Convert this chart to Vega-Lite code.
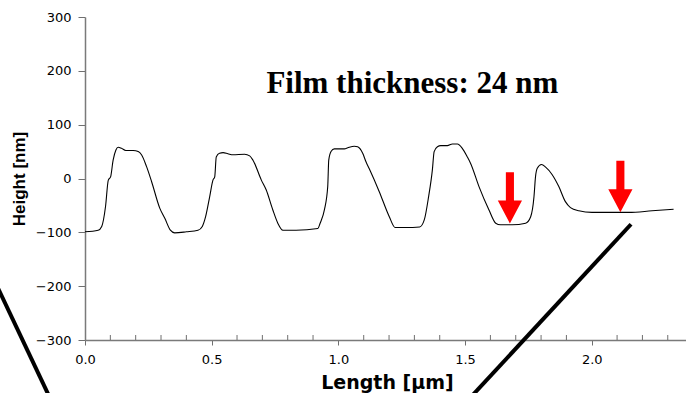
{
  "$schema": "https://vega.github.io/schema/vega-lite/v6.json",
  "width": 601,
  "height": 323,
  "autosize": {"type": "none"},
  "padding": {"left": 85, "top": 17, "right": 0, "bottom": 53},
  "background": "white",
  "config": {"view": {"stroke": null}},
  "datasets": {
    "profile": [
      {"length": 0, "height": -99}, {"length": 0.052, "height": -96}, {"length": 0.066, "height": -89},
      {"length": 0.081, "height": -52}, {"length": 0.092, "height": -3}, {"length": 0.101, "height": 3},
      {"length": 0.111, "height": 34}, {"length": 0.122, "height": 53}, {"length": 0.131, "height": 58},
      {"length": 0.144, "height": 56}, {"length": 0.161, "height": 52}, {"length": 0.19, "height": 52},
      {"length": 0.21, "height": 50}, {"length": 0.223, "height": 44}, {"length": 0.243, "height": 22},
      {"length": 0.263, "height": -6}, {"length": 0.295, "height": -55}, {"length": 0.315, "height": -74},
      {"length": 0.337, "height": -96}, {"length": 0.354, "height": -101}, {"length": 0.4, "height": -99},
      {"length": 0.446, "height": -96}, {"length": 0.463, "height": -89}, {"length": 0.476, "height": -71},
      {"length": 0.492, "height": -34}, {"length": 0.505, "height": -3}, {"length": 0.512, "height": 3},
      {"length": 0.518, "height": 40}, {"length": 0.531, "height": 47}, {"length": 0.545, "height": 48},
      {"length": 0.564, "height": 46}, {"length": 0.584, "height": 44}, {"length": 0.63, "height": 45},
      {"length": 0.65, "height": 42}, {"length": 0.663, "height": 34}, {"length": 0.696, "height": -3},
      {"length": 0.715, "height": -21}, {"length": 0.741, "height": -58}, {"length": 0.761, "height": -83},
      {"length": 0.781, "height": -96}, {"length": 0.833, "height": -96}, {"length": 0.919, "height": -93},
      {"length": 0.928, "height": -83}, {"length": 0.945, "height": -58}, {"length": 0.958, "height": -15},
      {"length": 0.962, "height": 34}, {"length": 0.971, "height": 50}, {"length": 0.984, "height": 55},
      {"length": 1.024, "height": 55}, {"length": 1.037, "height": 57}, {"length": 1.063, "height": 60},
      {"length": 1.076, "height": 59}, {"length": 1.096, "height": 47}, {"length": 1.109, "height": 31},
      {"length": 1.122, "height": 18}, {"length": 1.161, "height": -24}, {"length": 1.201, "height": -71},
      {"length": 1.224, "height": -91}, {"length": 1.266, "height": -91}, {"length": 1.321, "height": -90},
      {"length": 1.339, "height": -77}, {"length": 1.356, "height": -34}, {"length": 1.371, "height": 16},
      {"length": 1.378, "height": 50}, {"length": 1.391, "height": 59}, {"length": 1.404, "height": 61},
      {"length": 1.43, "height": 61}, {"length": 1.45, "height": 64}, {"length": 1.47, "height": 64},
      {"length": 1.489, "height": 56}, {"length": 1.509, "height": 40}, {"length": 1.522, "height": 28},
      {"length": 1.555, "height": -15}, {"length": 1.594, "height": -58}, {"length": 1.621, "height": -83},
      {"length": 1.64, "height": -86}, {"length": 1.686, "height": -86}, {"length": 1.739, "height": -83},
      {"length": 1.759, "height": -71}, {"length": 1.772, "height": -34}, {"length": 1.778, "height": 3},
      {"length": 1.785, "height": 19}, {"length": 1.802, "height": 26}, {"length": 1.818, "height": 21},
      {"length": 1.844, "height": 7}, {"length": 1.87, "height": -15}, {"length": 1.896, "height": -43},
      {"length": 1.916, "height": -54}, {"length": 1.949, "height": -60}, {"length": 2.001, "height": -63},
      {"length": 2.067, "height": -63}, {"length": 2.146, "height": -63}, {"length": 2.238, "height": -60},
      {"length": 2.323, "height": -57}
    ],
    "minorTicks": [
      {"length": 0.1, "height": -300}, {"length": 0.2, "height": -300}, {"length": 0.3, "height": -300},
      {"length": 0.4, "height": -300}, {"length": 0.6, "height": -300}, {"length": 0.7, "height": -300},
      {"length": 0.8, "height": -300}, {"length": 0.9, "height": -300}, {"length": 1.1, "height": -300},
      {"length": 1.2, "height": -300}, {"length": 1.3, "height": -300}, {"length": 1.4, "height": -300},
      {"length": 1.6, "height": -300}, {"length": 1.7, "height": -300}, {"length": 1.8, "height": -300},
      {"length": 1.9, "height": -300}, {"length": 2.1, "height": -300}, {"length": 2.2, "height": -300},
      {"length": 2.3, "height": -300}
    ],
    "arrows": [
      {"length": 1.677, "height": -36},
      {"length": 2.113, "height": -15}
    ],
    "diagonals": [
      {"seg": "a", "length": -0.355, "height": -192},
      {"seg": "a", "length": -0.135, "height": -411},
      {"seg": "b", "length": 2.155, "height": -85},
      {"seg": "b", "length": 1.513, "height": -411}
    ],
    "note": [
      {"length": 1.292, "height": 159, "label": "Film thickness: 24 nm"}
    ]
  },
  "encoding": {
    "x": {
      "field": "length",
      "type": "quantitative",
      "scale": {"domain": [0, 2.372], "nice": false, "zero": false},
      "axis": {
        "title": "Length [µm]",
        "titleFont": "DejaVu Sans",
        "titleFontSize": 19,
        "titleFontWeight": "bold",
        "titleColor": "black",
        "titleX": 302,
        "titleY": 33,
        "titleBaseline": "top",
        "titleAlign": "center",
        "values": [0, 0.5, 1.0, 1.5, 2.0],
        "format": ".1f",
        "labelOverlap": false,
        "labelFont": "DejaVu Sans",
        "labelFontSize": 13,
        "labelColor": "black",
        "labelPadding": 8,
        "labelFlush": false,
        "tickSize": 5,
        "tickColor": "#6f6f6f",
        "domainColor": "#7a7a7a",
        "domainWidth": 1.5,
        "grid": false
      }
    },
    "y": {
      "field": "height",
      "type": "quantitative",
      "scale": {"domain": [-300, 300], "nice": false, "zero": false},
      "axis": {
        "title": "Height [nm]",
        "titleFont": "Liberation Sans",
        "titleFontSize": 17,
        "titleFontWeight": "bold",
        "titleColor": "black",
        "titleAngle": 270,
        "titleX": -61,
        "titleY": 161.5,
        "titleAlign": "center",
        "titleBaseline": "alphabetic",
        "values": [-300, -200, -100, 0, 100, 200, 300],
        "labelFont": "DejaVu Sans",
        "labelFontSize": 13,
        "labelColor": "black",
        "labelPadding": 7,
        "tickSize": 7,
        "tickColor": "#6f6f6f",
        "domainColor": "#7a7a7a",
        "domainWidth": 1.5,
        "grid": false
      }
    }
  },
  "layer": [
    {
      "data": {"name": "minorTicks"},
      "mark": {"type": "tick", "orient": "vertical", "color": "#6f6f6f", "size": 5, "thickness": 1, "yOffset": -2.5, "opacity": 1}
    },
    {
      "data": {"name": "profile"},
      "mark": {"type": "line", "color": "black", "strokeWidth": 1.1, "interpolate": "monotone"}
    },
    {
      "data": {"name": "diagonals"},
      "mark": {"type": "line", "color": "black", "strokeWidth": 4, "strokeCap": "butt"},
      "encoding": {"detail": {"field": "seg"}}
    },
    {
      "data": {"name": "arrows"},
      "mark": {
        "type": "point",
        "filled": true,
        "color": "#ff0000",
        "opacity": 1,
        "size": 2650,
        "shape": "M -0.157 -1 L 0.157 -1 L 0.157 0.1 L 0.47 0.1 L 0 1 L -0.47 0.1 L -0.157 0.1 Z"
      }
    },
    {
      "data": {"name": "note"},
      "mark": {
        "type": "text",
        "font": "Liberation Serif",
        "fontSize": 31,
        "fontWeight": "bold",
        "color": "black",
        "align": "center",
        "baseline": "alphabetic"
      },
      "encoding": {"text": {"field": "label"}}
    }
  ]
}
